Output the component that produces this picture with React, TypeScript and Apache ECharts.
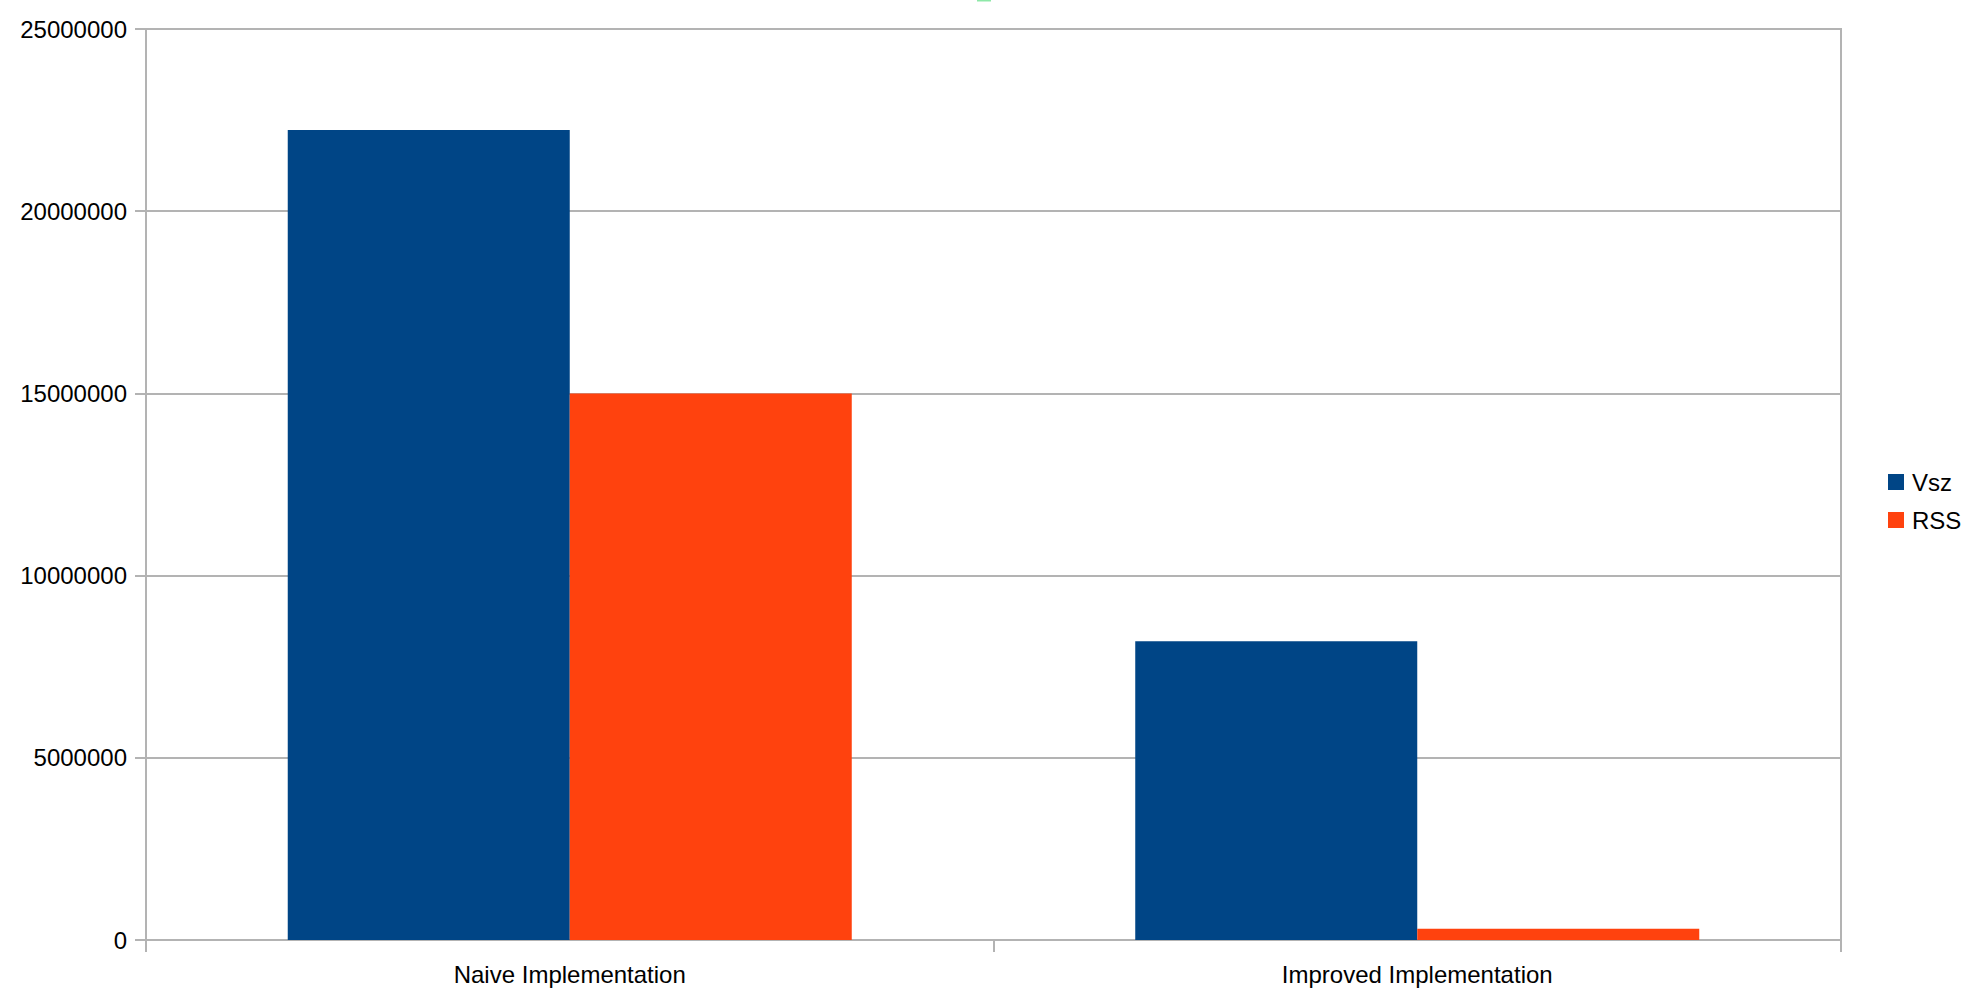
import React, { useEffect, useRef } from "react";
import * as echarts from "echarts";

const categories = ["Naive Implementation", "Improved Implementation"];
const seriesNames = ["Vsz", "RSS"];
const vszValues = [22230000, 8200000];
const rssValues = [15000000, 310000];
const yMin = 0;
const yMax = 25000000;
const yInterval = 5000000;

const FONT = "'Liberation Sans', Arial, sans-serif";
const GRID_COLOR = "#b3b3b3";

export default function App() {
  const ref = useRef<HTMLDivElement>(null);
  useEffect(() => {
    if (!ref.current) return;
    const chart = echarts.init(ref.current, undefined, { renderer: "svg" });
    chart.setOption({
      animation: false,
      backgroundColor: "#ffffff",
      textStyle: { fontFamily: FONT },
      grid: {
        left: 146,
        right: 137,
        top: 29,
        bottom: 57,
        show: true,
        borderColor: GRID_COLOR,
        borderWidth: 2,
        backgroundColor: "transparent",
      },
      legend: {
        orient: "vertical",
        left: 1888,
        top: 470,
        padding: 0,
        icon: "rect",
        itemWidth: 16,
        itemHeight: 16,
        itemGap: 14,
        data: seriesNames,
        textStyle: {
          fontFamily: FONT,
          fontSize: 24,
          color: "#000000",
          lineHeight: 24,
          padding: [0, 0, 0, 3],
        },
      },
      xAxis: {
        type: "category",
        data: categories,
        boundaryGap: true,
        axisLine: { show: true, lineStyle: { color: GRID_COLOR, width: 2 } },
        axisTick: {
          show: true,
          alignWithLabel: false,
          length: 12,
          lineStyle: { color: GRID_COLOR, width: 2 },
        },
        axisLabel: {
          fontFamily: FONT,
          fontSize: 24,
          color: "#000000",
          margin: 22,
        },
      },
      yAxis: {
        type: "value",
        min: yMin,
        max: yMax,
        interval: yInterval,
        axisLine: { show: true, lineStyle: { color: GRID_COLOR, width: 2 } },
        axisTick: { show: true, length: 11, lineStyle: { color: GRID_COLOR, width: 2 } },
        splitLine: { show: true, lineStyle: { color: GRID_COLOR, width: 2 } },
        axisLabel: {
          fontFamily: FONT,
          fontSize: 24,
          color: "#000000",
          margin: 19,
          formatter: (v: number) => String(v),
        },
      },
      series: [
        {
          name: seriesNames[0],
          type: "bar",
          data: vszValues,
          itemStyle: { color: "#004586" },
          barGap: "0%",
          barCategoryGap: "33.45%",
        },
        {
          name: seriesNames[1],
          type: "bar",
          data: rssValues,
          itemStyle: { color: "#ff420e" },
          barGap: "0%",
          barCategoryGap: "33.45%",
        },
      ],
      graphic: [
        {
          type: "rect",
          left: 977,
          top: 0,
          shape: { width: 14, height: 1.5 },
          style: { fill: "#8ee8a8" },
          silent: true,
        },
      ],
    });
    return () => chart.dispose();
  }, []);
  return (
    <div
      ref={ref}
      style={{ position: "fixed", left: 0, top: 0, width: 1978, height: 997 }}
    />
  );
}
